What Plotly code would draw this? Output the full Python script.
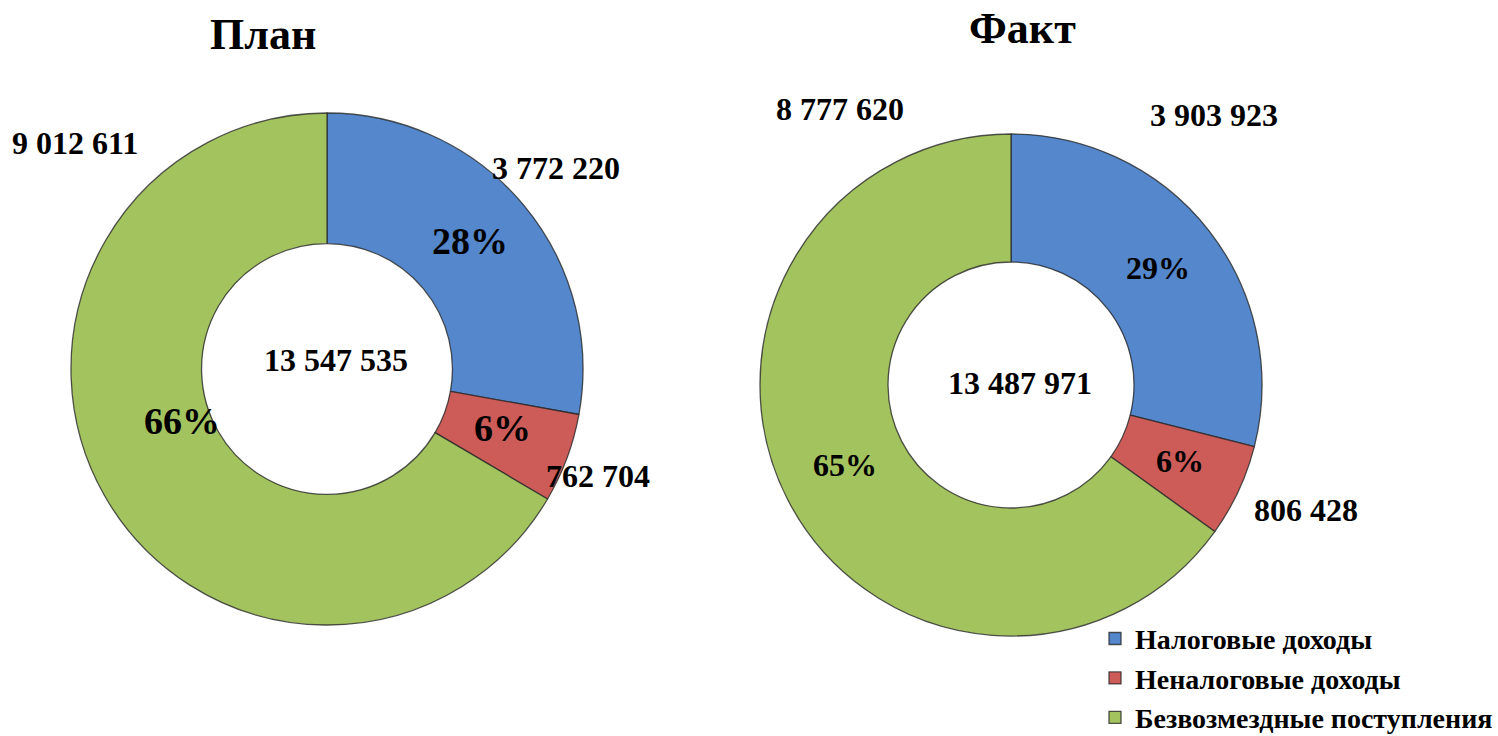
import math
import plotly.graph_objects as go

# ---- data ----
categories = ["Налоговые доходы", "Неналоговые доходы", "Безвозмездные поступления"]
plan_values = [3772220, 762704, 9012611]
fact_values = [3903923, 806428, 8777620]
titles = ["План", "Факт"]

# ---- style ----
colors = ["#5487CB", "#CD5B57", "#A3C35F"]
edge = "rgba(40,40,40,0.8)"
FONT = "Liberation Serif, Times New Roman, serif"
W, H = 1498, 736


def fmt(v):
    return f"{v:,}".replace(",", " ")


def rounded_percents(vals):
    # largest-remainder rounding so the shares add up to 100
    total = sum(vals)
    raw = [v * 100 / total for v in vals]
    fl = [math.floor(r) for r in raw]
    rest = 100 - sum(fl)
    order = sorted(range(len(vals)), key=lambda i: raw[i] - fl[i], reverse=True)
    for i in order[:rest]:
        fl[i] += 1
    return fl


def px(x, y):
    return x / W, 1 - y / H


fig = go.Figure()

# pie geometry (pixels): center x, center y, radius
geoms = [(327, 369, 256), (1011, 385, 251)]

for i, (vals, (cx, cy, r)) in enumerate(zip([plan_values, fact_values], geoms)):
    fig.add_trace(go.Pie(
        labels=categories,
        values=vals,
        hole=0.49,
        sort=False,
        direction="clockwise",
        rotation=0,
        marker=dict(colors=colors, line=dict(color=edge, width=1.3)),
        textinfo="none",
        domain=dict(x=[(cx - r) / W, (cx + r) / W], y=[1 - (cy + r) / H, 1 - (cy - r) / H]),
        showlegend=(i == 0),
        hoverinfo="label+value+percent",
    ))

annotations = []


def add_text(x, y, text, size):
    ax, ay = px(x, y)
    annotations.append(dict(x=ax, y=ay, xref="paper", yref="paper", text=f"<b>{text}</b>",
                            xanchor="center", yanchor="middle", showarrow=False,
                            font=dict(family=FONT, size=size, color="black")))


# titles
title_pos = [(263, 35), (1022, 28)]
for t, (x, y) in zip(titles, title_pos):
    add_text(x, y, t, 44)

# value labels (positions are layout only)
value_label_pos = [
    [(556, 168), (598, 476), (75, 143)],
    [(1214, 115), (1306, 510), (840, 109)],
]
# percent labels (positions are layout only)
pct_label_pos = [
    [(470, 241), (503, 428), (182, 421)],
    [(1158, 268), (1180, 461), (845, 465)],
]
pct_sizes = [38, 32]
center_pos = [(336, 360), (1020, 383)]

for k, vals in enumerate([plan_values, fact_values]):
    for v, (x, y) in zip(vals, value_label_pos[k]):
        add_text(x, y, fmt(v), 32)
    for p, (x, y) in zip(rounded_percents(vals), pct_label_pos[k]):
        add_text(x, y, f"{p}%", pct_sizes[k])
    x, y = center_pos[k]
    add_text(x, y, fmt(sum(vals)), 32)

fig.update_layout(
    width=W, height=H,
    margin=dict(l=0, r=0, t=0, b=0, autoexpand=False),
    paper_bgcolor="white",
    plot_bgcolor="white",
    annotations=annotations,
    legend=dict(
        xref="container", yref="container",
        x=1.0, xanchor="right", y=0.166, yanchor="top",
        font=dict(family=FONT, size=28, color="black", weight="bold"),
        traceorder="normal",
        itemclick=False,
        bgcolor="rgba(0,0,0,0)",
    ),
)

fig.write_html("out.html", config={"displayModeBar": False},
               post_script="document.body.style.margin='0';")
